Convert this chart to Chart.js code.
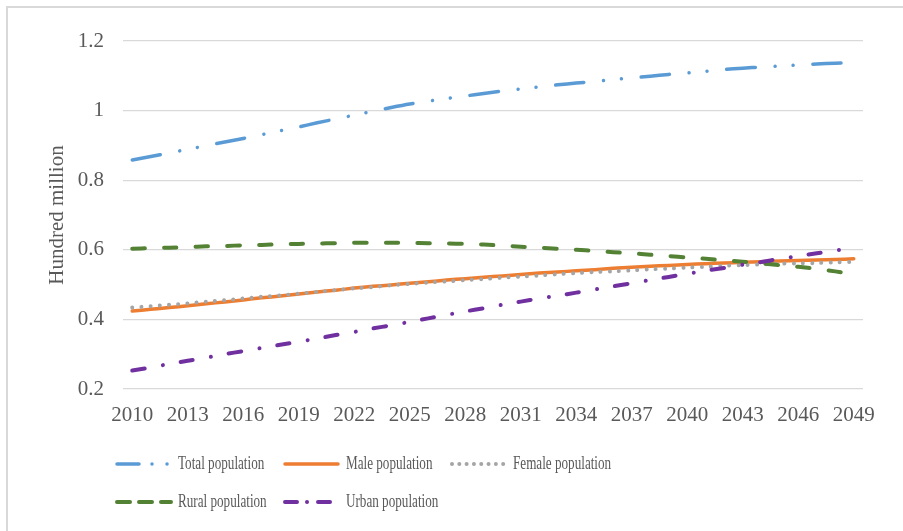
<!DOCTYPE html>
<html>
<head>
<meta charset="utf-8">
<script src="https://cdn.jsdelivr.net/npm/chart.js@4"></script>
<style>
  html, body { margin: 0; padding: 0; background: #fff; }
</style>
</head>
<body>
<canvas id="popChart" width="903" height="531"></canvas>
<script>
const years = ['2010', '2011', '2012', '2013', '2014', '2015', '2016', '2017', '2018', '2019',
  '2020', '2021', '2022', '2023', '2024', '2025', '2026', '2027', '2028', '2029',
  '2030', '2031', '2032', '2033', '2034', '2035', '2036', '2037', '2038', '2039',
  '2040', '2041', '2042', '2043', '2044', '2045', '2046', '2047', '2048', '2049'];
const yTickLabels = ['0.2', '0.4', '0.6', '0.8', '1', '1.2'];

const totalPop = [0.858, 0.868, 0.878, 0.889, 0.899, 0.910, 0.920, 0.931, 0.942, 0.953,
  0.965, 0.976, 0.987, 0.998, 1.009, 1.019, 1.027, 1.035, 1.042, 1.049,
  1.056, 1.062, 1.068, 1.074, 1.079, 1.084, 1.089, 1.094, 1.099, 1.104,
  1.108, 1.113, 1.118, 1.122, 1.125, 1.128, 1.131, 1.134, 1.136, 1.138];
const malePop = [0.424, 0.429, 0.434, 0.439, 0.445, 0.450, 0.456, 0.462, 0.467, 0.473,
  0.479, 0.484, 0.490, 0.495, 0.499, 0.504, 0.508, 0.513, 0.517, 0.521,
  0.525, 0.529, 0.533, 0.536, 0.540, 0.543, 0.547, 0.550, 0.553, 0.555,
  0.558, 0.560, 0.562, 0.564, 0.566, 0.568, 0.569, 0.571, 0.572, 0.574];
const femalePop = [0.434, 0.438, 0.442, 0.446, 0.451, 0.455, 0.460, 0.465, 0.469, 0.474,
  0.479, 0.484, 0.489, 0.493, 0.498, 0.502, 0.506, 0.509, 0.513, 0.516,
  0.520, 0.523, 0.526, 0.530, 0.533, 0.536, 0.538, 0.541, 0.544, 0.546,
  0.549, 0.551, 0.554, 0.556, 0.558, 0.560, 0.561, 0.562, 0.564, 0.565];
const ruralPop = [0.603, 0.605, 0.606, 0.608, 0.610, 0.611, 0.613, 0.614, 0.616, 0.617,
  0.618, 0.619, 0.620, 0.620, 0.620, 0.620, 0.619, 0.618, 0.617, 0.615,
  0.612, 0.609, 0.606, 0.603, 0.600, 0.597, 0.593, 0.590, 0.586, 0.582,
  0.578, 0.574, 0.570, 0.566, 0.561, 0.556, 0.551, 0.545, 0.538, 0.530];
const urbanPop = [0.253, 0.262, 0.272, 0.281, 0.290, 0.300, 0.309, 0.318, 0.327, 0.336,
  0.345, 0.355, 0.364, 0.374, 0.383, 0.393, 0.403, 0.413, 0.423, 0.432,
  0.442, 0.451, 0.460, 0.468, 0.477, 0.486, 0.495, 0.504, 0.513, 0.522,
  0.531, 0.540, 0.548, 0.557, 0.565, 0.574, 0.582, 0.590, 0.598, 0.606];

const seriesNames = ['Total population', 'Male population', 'Female population', 'Rural population', 'Urban population'];
const seriesValues = [totalPop, malePop, femalePop, ruralPop, urbanPop];

// line look per series (plot dash + its legend sample)
const styles = [
  { color: '#5b9bd5', width: 3.5, dash: [28.5, 19.75, 0.01, 18, 0.01, 19.75],
    legendDash: [22, 13, 0.01, 15, 0.01, 30], legendFrom: 2, legendTo: 53 },
  { color: '#ed7d31', width: 3.5, dash: [],
    legendDash: [], legendFrom: 2, legendTo: 55 },
  { color: '#a5a5a5', width: 4, dash: [0.01, 9.2],
    legendDash: [0.01, 7.3], legendFrom: 2, legendTo: 58 },
  { color: '#548235', width: 4, dash: [12.5, 19.2],
    legendDash: [13, 9], legendFrom: 2, legendTo: 56 },
  { color: '#7030a0', width: 4, dash: [12.5, 18.5, 0.01, 18],
    legendDash: [12, 10, 0.01, 11, 12, 30], legendFrom: 2, legendTo: 47 }
];

const textColor = '#595959';
const serif = 'Liberation Serif';

const frame = {
  id: 'frame',
  beforeDraw(chart) {
    const ctx = chart.ctx;
    ctx.save();
    ctx.strokeStyle = '#d9d9d9';
    ctx.lineWidth = 2;
    ctx.beginPath();
    ctx.moveTo(7, 531);
    ctx.lineTo(7, 7);
    ctx.lineTo(903, 7);
    ctx.stroke();
    ctx.restore();
  }
};

// Excel-like legend laid out in a 3-column grid under the plot
const gridLegend = {
  id: 'gridLegend',
  afterDraw(chart) {
    const ctx = chart.ctx;
    const rows = [464, 502];
    const cols = [115, 283, 450];
    chart.data.datasets.forEach((ds, i) => {
      const st = styles[i];
      const x = cols[i % 3];
      const y = rows[Math.floor(i / 3)];
      ctx.save();
      ctx.strokeStyle = st.color;
      ctx.lineWidth = st.width;
      ctx.lineCap = 'round';
      ctx.setLineDash(st.legendDash);
      ctx.beginPath();
      ctx.moveTo(x + st.legendFrom, y);
      ctx.lineTo(x + st.legendTo, y);
      ctx.stroke();
      ctx.restore();

      ctx.save();
      ctx.translate(x + 63, y);
      ctx.scale(0.73, 1);
      ctx.font = '18px "' + serif + '"';
      ctx.fillStyle = textColor;
      ctx.textBaseline = 'middle';
      ctx.fillText(ds.label, 0, 0);
      ctx.restore();
    });
  }
};

const datasets = seriesNames.map((name, i) => ({
  label: name,
  data: seriesValues[i],
  borderColor: styles[i].color,
  backgroundColor: styles[i].color,
  borderWidth: styles[i].width,
  borderDash: styles[i].dash,
  borderCapStyle: 'round',
  borderJoinStyle: 'round',
  pointRadius: 0,
  tension: 0.3,
  fill: false,
  order: seriesNames.length - 1 - i
}));

const ctx = document.getElementById('popChart').getContext('2d');
new Chart(ctx, {
  type: 'line',
  data: { labels: years, datasets },
  options: {
    responsive: false,
    animation: false,
    devicePixelRatio: 1,
    layout: { padding: { left: 0, right: 40, top: 41, bottom: 102 } },
    plugins: {
      legend: { display: false },
      tooltip: { enabled: false }
    },
    scales: {
      x: {
        offset: true,
        grid: { display: false, drawTicks: false },
        border: { display: false },
        ticks: {
          autoSkip: false,
          maxRotation: 0,
          padding: 14,
          color: textColor,
          font: { family: serif, size: 21 },
          callback: (v, i) => (i % 3 === 0 ? years[i] : '')
        },
        afterFit: s => { s.height = 40; }
      },
      y: {
        min: 0.2,
        max: 1.2,
        grid: { color: '#d9d9d9', lineWidth: 1.3, drawTicks: false },
        border: { display: false },
        ticks: {
          stepSize: 0.2,
          padding: 19,
          color: textColor,
          font: { family: serif, size: 21 },
          callback: (v, i) => yTickLabels[i] ?? String(Math.round(v * 10) / 10)
        },
        title: {
          display: true,
          text: 'Hundred million',
          color: textColor,
          font: { family: serif, size: 21 },
          padding: { top: 45, bottom: 0 }
        },
        afterFit: s => { s.width = 123; }
      }
    }
  },
  plugins: [frame, gridLegend]
});
</script>
</body>
</html>
